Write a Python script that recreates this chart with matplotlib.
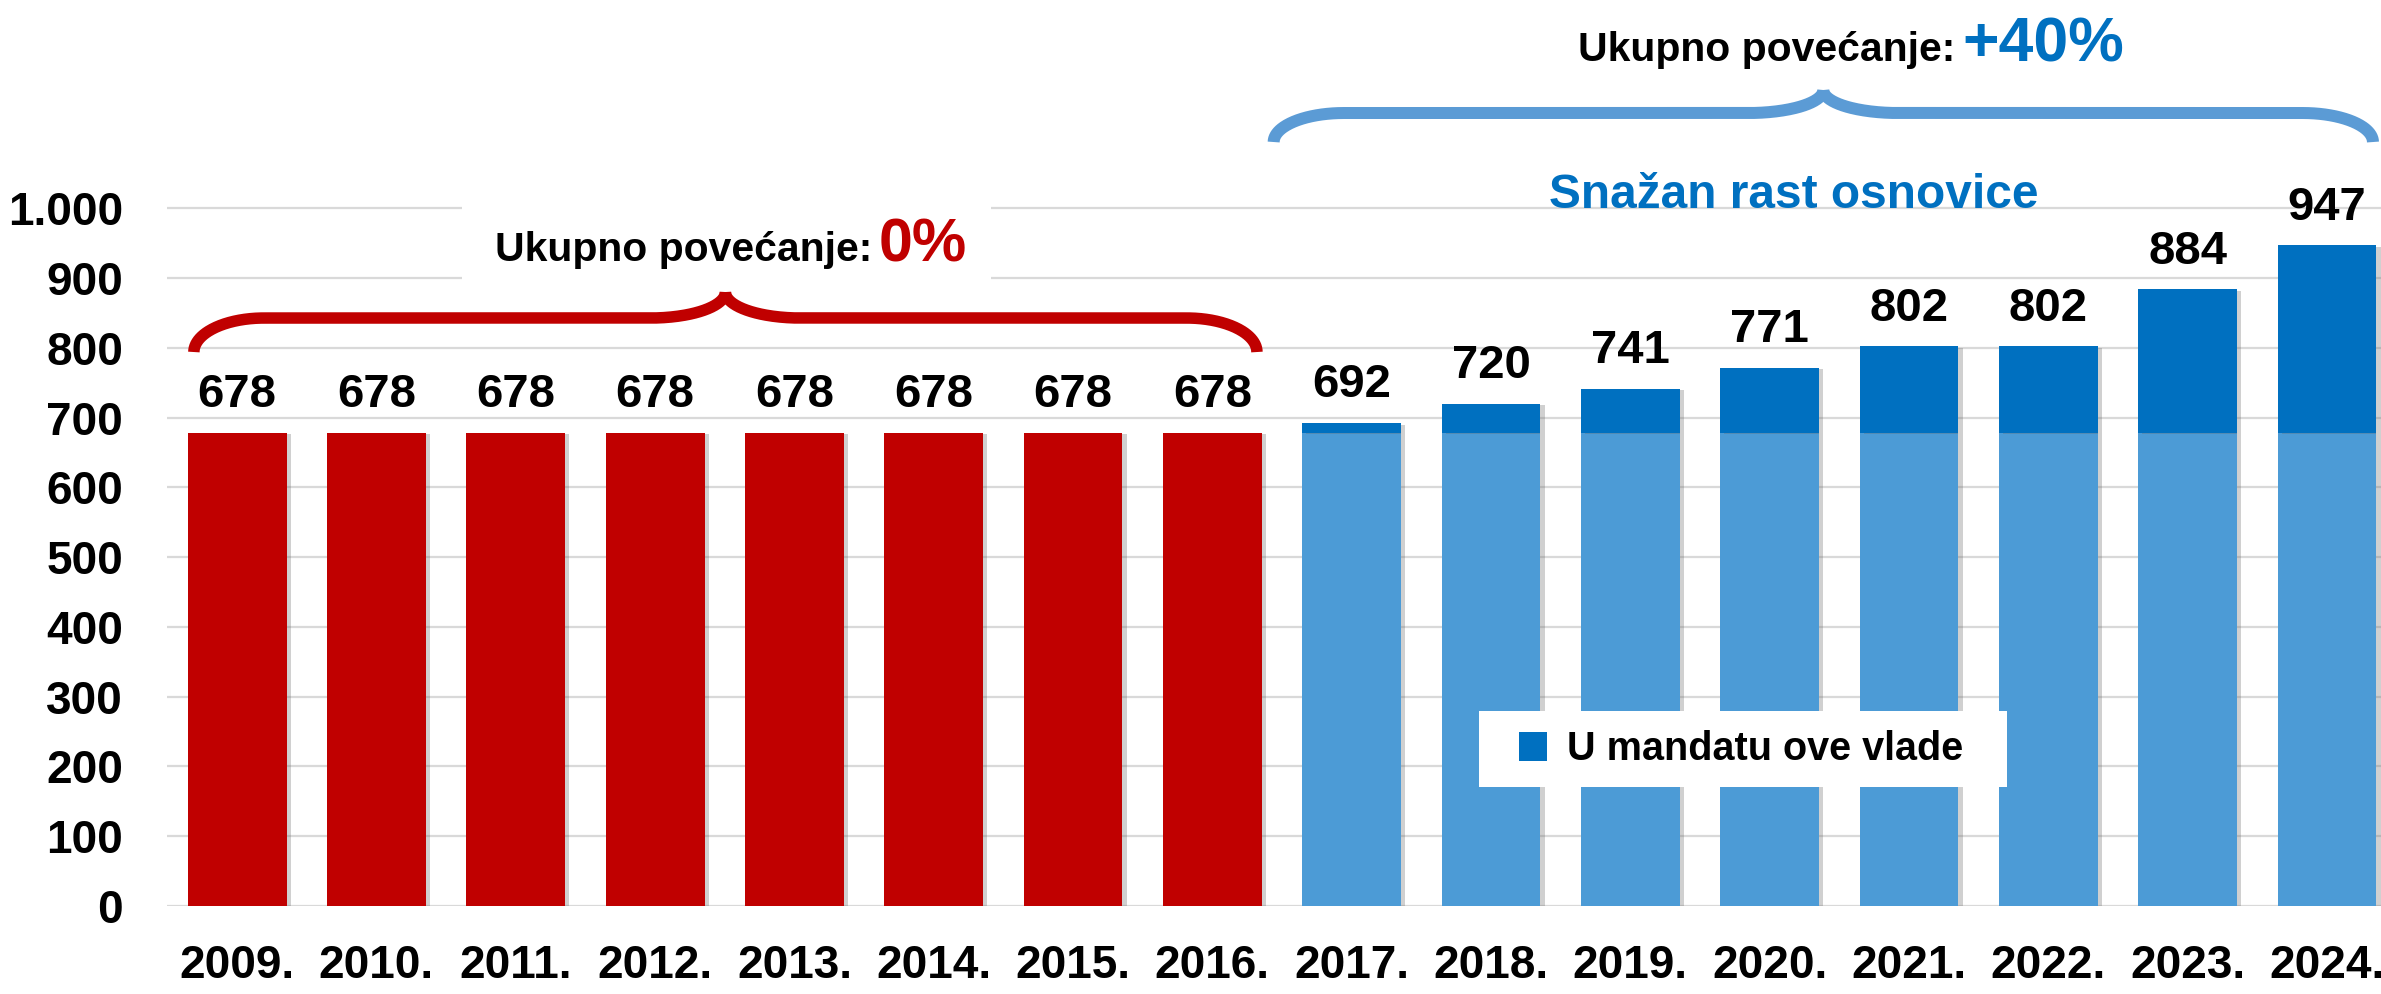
import numpy as np
import matplotlib
matplotlib.use('Agg')
import matplotlib.pyplot as plt
import matplotlib.patheffects as pe
from matplotlib import font_manager as fm
from matplotlib.patches import Rectangle, Patch

# data
years = [2009, 2010, 2011, 2012, 2013, 2014, 2015, 2016,
         2017, 2018, 2019, 2020, 2021, 2022, 2023, 2024]
values = [678, 678, 678, 678, 678, 678, 678, 678,
          692, 720, 741, 771, 802, 802, 884, 947]
base = 678
n_old = 8  # years before the current government
legend_label = 'U mandatu ove vlade'

RED = '#C00000'
LIGHT = '#4C9BD6'
DARK = '#0070C0'
BRACE_BLUE = '#5B9BD5'

names = {f.name for f in fm.fontManager.ttflist}
NUM = 'Liberation Sans'
if 'Liberation Sans Narrow' in names:
    TXT, k = 'Liberation Sans Narrow', 1.0
else:
    TXT, k = 'Liberation Sans', 0.84

W, H = 2381, 994
fig = plt.figure(figsize=(W / 100, H / 100), dpi=100)
ax = fig.add_axes([167.4 / W, 88 / H, (W - 167.4) / W, 906 / H])

x = np.arange(len(years))
vals = np.array(values)
shadow = [pe.SimplePatchShadow(offset=(3, -1), shadow_rgbFace='0.4', alpha=0.3), pe.Normal()]

ax.bar(x[:n_old], vals[:n_old], width=0.71, color=RED, zorder=2, path_effects=shadow)
ax.bar(x[n_old:], base, width=0.71, color=LIGHT, zorder=2, path_effects=shadow)
ax.bar(x[n_old:], vals[n_old:] - base, bottom=base, width=0.71, color=DARK, zorder=2,
       path_effects=shadow)

for xi, v in zip(x, vals):
    ax.annotate(str(v), (xi, v), xytext=(0, 18.5), textcoords='offset points',
                ha='center', va='baseline', fontsize=34, fontweight='bold',
                family=NUM, color='black')

ax.set_xlim(-0.5, 15 + (W - 2327) / 139.3)
ax.set_ylim(0, 906 / 0.6977)
ax.set_yticks(range(0, 1001, 100))
ax.set_yticklabels([f'{v:,}'.replace(',', '.') for v in range(0, 1001, 100)])
ax.set_xticks(x)
ax.set_xticklabels([f'{y}.' for y in years])
for lab in ax.get_xticklabels() + ax.get_yticklabels():
    lab.set_fontweight('bold')
    lab.set_family(NUM)
ax.tick_params(axis='y', length=0, pad=32, labelsize=33)
ax.tick_params(axis='x', length=0, pad=27, labelsize=33)
for s in ax.spines.values():
    s.set_visible(False)
ax.set_axisbelow(True)
ax.grid(axis='y', color='#D9D9D9', linewidth=1.6, zorder=0.5)


def brace(x0, x1, y_tip, color, a=70, rise=34, b=75, peak=26, lw=11.5):
    # curly brace drawn in pixel space, then mapped back to data
    X0, Y0 = ax.transData.transform((x0, y_tip))
    X1, _ = ax.transData.transform((x1, y_tip))
    xm = (X0 + X1) / 2
    yf = Y0 + rise
    yp = yf + peak
    n = 80
    th = np.linspace(np.pi, np.pi / 2, n)
    s1 = np.c_[X0 + a + a * np.cos(th), Y0 + rise * np.sin(th)]
    s2 = np.c_[np.linspace(X0 + a, xm - b, n), np.full(n, yf)]
    th = np.linspace(-np.pi / 2, 0, n)
    s3 = np.c_[xm - b + b * np.cos(th), yp + peak * np.sin(th)]
    left = np.vstack([s1, s2[1:], s3[1:]])
    right = left.copy()
    right[:, 0] = 2 * xm - right[:, 0]
    inv = ax.transData.inverted()
    for half in (left, right):
        d = inv.transform(half)
        ax.plot(d[:, 0], d[:, 1], color=color, lw=lw * 0.72, solid_capstyle='butt',
                solid_joinstyle='round', clip_on=False, zorder=3)


brace(x[0] - 0.31, x[n_old - 1] + 0.32, 794, RED, rise=34, peak=26)
brace(x[n_old] - 0.56, x[-1] + 0.33, 1095, BRACE_BLUE, rise=29, peak=23, lw=12)


def fx(px):
    return px / W


def fy(py):
    return 1 - py / H


# white box behind the red annotation
ax.add_patch(Rectangle((fx(462), fy(290)), (991 - 462) / W, 95 / H, transform=fig.transFigure,
                       facecolor='white', edgecolor='none', clip_on=False, zorder=2.5))
fig.text(fx(872), fy(261), 'Ukupno povećanje:', ha='right', va='baseline',
         fontsize=35 * k, fontweight='bold', family=TXT)
fig.text(fx(879), fy(261), '0%', ha='left', va='baseline', fontsize=44,
         fontweight='bold', family=NUM, color=RED)

fig.text(fx(1955), fy(61), 'Ukupno povećanje:', ha='right', va='baseline',
         fontsize=35 * k, fontweight='bold', family=TXT)
fig.text(fx(1962), fy(61), '+40%', ha='left', va='baseline', fontsize=45,
         fontweight='bold', family=NUM, color=DARK)

fig.text(fx(1794), fy(208), 'Snažan rast osnovice', ha='center', va='baseline',
         fontsize=41 * k, fontweight='bold', family=TXT, color=DARK)

# legend
ax.add_patch(Rectangle((fx(1479), fy(787)), (2007 - 1479) / W, 76 / H, transform=fig.transFigure,
                       facecolor='white', edgecolor='none', clip_on=False, zorder=4))
F = 34 * k * 100 / 72
ax.legend(handles=[Patch(facecolor=DARK, edgecolor='none', label=legend_label)],
          loc='center left', bbox_to_anchor=(fx(1519), fy(749)),
          bbox_transform=fig.transFigure, frameon=False, borderpad=0, borderaxespad=0,
          handlelength=28 / F, handleheight=30 / F, handletextpad=20 / F,
          prop={'family': TXT, 'weight': 'bold', 'size': 34 * k})

fig.savefig('out.png', dpi=100)
